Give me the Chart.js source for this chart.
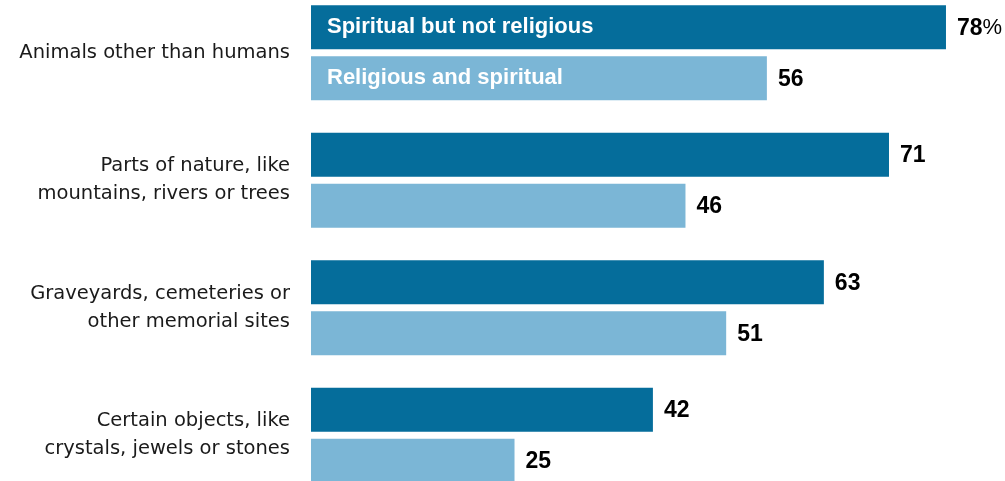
<!DOCTYPE html>
<html>
<head>
<meta charset="utf-8">
<script src="https://cdn.jsdelivr.net/npm/chart.js@4/dist/chart.umd.min.js"></script>
<style>
  html, body { margin: 0; padding: 0; background: #fff; overflow: hidden; }
  #wrap { position: absolute; left: 0; top: -11px; width: 1005px; height: 510px; }
</style>
</head>
<body>
<div id="wrap"><canvas id="chart" width="1005" height="510"></canvas></div>
<script>
const categories = [
  ['Animals other than humans'],
  ['Parts of nature, like', 'mountains, rivers or trees'],
  ['Graveyards, cemeteries or', 'other memorial sites'],
  ['Certain objects, like', 'crystals, jewels or stones']
];
const seriesNames = ['Spiritual but not religious', 'Religious and spiritual'];
const spiritualNotReligious = [78, 71, 63, 42];
const religiousAndSpiritual = [56, 46, 51, 25];

const darkBlue = '#056d9b';
const lightBlue = '#7bb6d6';
const family = '"Liberation Sans", Arial, sans-serif';
const labelFont = '19.5px "DejaVu Sans", sans-serif';
const valueFont = 'bold 23px ' + family;
const nameFont = 'bold 22px ' + family;

const labelsPlugin = {
  id: 'labelsPlugin',
  afterDatasetsDraw(chart) {
    const ctx = chart.ctx;
    ctx.save();
    // category labels on the left
    const yScale = chart.scales.y;
    ctx.fillStyle = '#1a1a1a';
    ctx.font = labelFont;
    ctx.textAlign = 'right';
    ctx.textBaseline = 'middle';
    categories.forEach((lines, i) => {
      const cy = yScale.getPixelForValue(i);
      const lh = 28;
      const start = cy - (lines.length - 1) * lh / 2;
      lines.forEach((ln, k) => ctx.fillText(ln, 290, start + k * lh));
    });
    // value labels at bar ends
    chart.data.datasets.forEach((ds, di) => {
      const meta = chart.getDatasetMeta(di);
      meta.data.forEach((bar, j) => {
        const v = ds.data[j];
        ctx.textAlign = 'left';
        ctx.fillStyle = '#000';
        ctx.font = valueFont;
        const x = bar.x + 11;
        ctx.fillText(String(v), x, bar.y + 1);
        if (di === 0 && j === 0) {
          const w = ctx.measureText(String(v)).width;
          ctx.font = '22px ' + family;
          ctx.fillText('%', x + w, bar.y + 1);
        }
      });
      // series name inside first bar
      const first = meta.data[0];
      ctx.fillStyle = '#fff';
      ctx.font = nameFont;
      ctx.textAlign = 'left';
      ctx.fillText(ds.label, first.base + 16, first.y);
    });
    ctx.restore();
  }
};

new Chart(document.getElementById('chart'), {
  type: 'bar',
  data: {
    labels: categories,
    datasets: [
      { label: seriesNames[0], data: spiritualNotReligious, backgroundColor: darkBlue },
      { label: seriesNames[1], data: religiousAndSpiritual, backgroundColor: lightBlue }
    ]
  },
  options: {
    indexAxis: 'y',
    responsive: false,
    devicePixelRatio: 1,
    animation: false,
    layout: { padding: { left: 311, right: 0, top: 0, bottom: 0 } },
    datasets: {
      bar: { categoryPercentage: 0.8, barPercentage: 0.86 }
    },
    scales: {
      x: { display: false, min: 0, max: 85.25 },
      y: { display: false }
    },
    plugins: {
      legend: { display: false },
      tooltip: { enabled: false }
    }
  },
  plugins: [labelsPlugin]
});
</script>
</body>
</html>
